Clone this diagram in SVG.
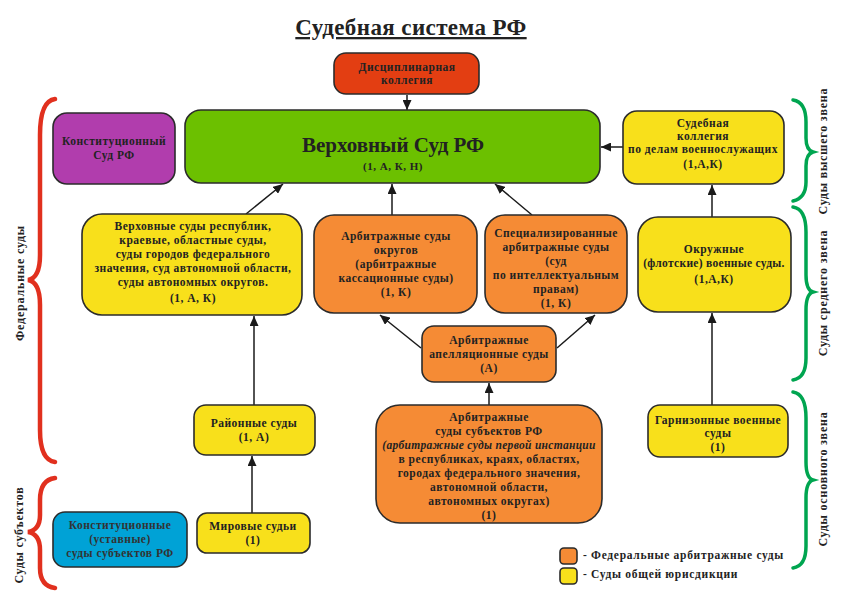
<svg xmlns="http://www.w3.org/2000/svg" width="842" height="596" viewBox="0 0 842 596">
<defs>
<marker id="arr" markerUnits="userSpaceOnUse" markerWidth="10" markerHeight="9" refX="10" refY="4.5" orient="auto">
<path d="M0,0 L10,4.5 L0,9 z" fill="#1a1a1a"/>
</marker>
</defs>
<style>
text{font-family:'Liberation Serif','Times New Roman',serif;font-weight:bold;fill:#222}
.n{stroke:#2b2b2b;stroke-width:1.6}
.t{font-size:11.5px;letter-spacing:0.5px;text-anchor:middle}
.c{stroke:#1a1a1a;stroke-width:1.5;fill:none;marker-end:url(#arr)}
.side{font-size:12px;letter-spacing:0.8px;text-anchor:middle}
.lg{font-size:11.5px;letter-spacing:0.7px}
.rb{fill:none;stroke:#E1301E;stroke-width:4.5;stroke-linecap:round}
.gb{fill:none;stroke:#00A550;stroke-width:3.5;stroke-linecap:round}
</style>
<rect width="842" height="596" fill="#ffffff"/>
<text x="411" y="35" style="font-size:23px;letter-spacing:0.4px;text-anchor:middle;text-decoration:underline">Судебная система РФ</text>

<g id="braces">
<path class="rb" d="M55,99 Q40,101 40,135 L40,255 Q40,278 28,280 Q40,282 40,305 L40,430 Q40,460 55,462"/>
<path class="rb" d="M55,478 Q40,480 40,500 L40,515 Q40,530 28,532 Q40,534 40,550 L40,568 Q40,586 55,588"/>
<path class="gb" d="M793,100 Q806,102 806,122 L806,138 Q806,150 813,152 Q806,154 806,166 L806,182 Q806,198 793,201"/>
<path class="gb" d="M793,207 Q806,209 806,232 L806,275 Q806,290 813,292 Q806,294 806,310 L806,358 Q806,378 793,380"/>
<path class="gb" d="M793,392 Q806,394 806,418 L806,462 Q806,478 813,480 Q806,482 806,498 L806,546 Q806,566 793,568"/>
<text class="side" transform="translate(24,283) rotate(-90)">Федеральные суды</text>
<text class="side" transform="translate(23,535) rotate(-90)">Суды субъектов</text>
<text class="side" transform="translate(827,151) rotate(-90)">Суды высшего звена</text>
<text class="side" transform="translate(827,293) rotate(-90)">Суды среднего звена</text>
<text class="side" transform="translate(827,479) rotate(-90)">Суды основного звена</text>
</g>

<g id="connectors">
<line class="c" x1="407" y1="95" x2="407" y2="110"/>
<line class="c" x1="623" y1="147" x2="601" y2="147"/>
<line class="c" x1="712" y1="217" x2="712" y2="185"/>
<line class="c" x1="246" y1="214" x2="283" y2="184"/>
<line class="c" x1="392" y1="215" x2="392" y2="184"/>
<line class="c" x1="532" y1="215" x2="495" y2="184"/>
<line class="c" x1="421" y1="348" x2="380" y2="315"/>
<line class="c" x1="557" y1="348" x2="595" y2="315"/>
<line class="c" x1="489" y1="405" x2="489" y2="383"/>
<line class="c" x1="254" y1="405" x2="254" y2="316"/>
<line class="c" x1="252" y1="513" x2="252" y2="456"/>
<line class="c" x1="712" y1="405" x2="712" y2="313"/>
</g>

<g id="disc">
<rect class="n" x="334" y="53" width="145" height="41" rx="12" fill="#E33E12"/>
<text class="t" x="407" y="71">Дисциплинарная</text>
<text class="t" x="407" y="84">коллегия</text>
</g>

<g id="supreme">
<rect class="n" x="185" y="110" width="415" height="73" rx="16" fill="#6CC000"/>
<text class="t" x="393" y="152" style="font-size:21px;letter-spacing:0">Верховный Суд РФ</text>
<text class="t" x="393" y="170" style="font-size:11px;letter-spacing:0.5px">(1, А, К, Н)</text>
</g>

<g id="const">
<rect class="n" x="53" y="113" width="122" height="71" rx="14" fill="#B13DAD"/>
<text class="t" x="114" y="145">Конституционный</text>
<text class="t" x="114" y="159">Суд РФ</text>
</g>

<g id="military-board">
<rect class="n" x="623" y="111" width="161" height="73" rx="14" fill="#F8E01B"/>
<text class="t" x="703" y="127">Судебная</text>
<text class="t" x="703" y="140">коллегия</text>
<text class="t" x="703" y="153">по делам военнослужащих</text>
<text class="t" x="703" y="168">(1,А,К)</text>
</g>

<g id="regional">
<rect class="n" x="82" y="214" width="220" height="101" rx="20" fill="#F8E01B"/>
<text class="t" x="193" y="230">Верховные суды республик,</text>
<text class="t" x="193" y="244">краевые, областные суды,</text>
<text class="t" x="193" y="258">суды городов федерального</text>
<text class="t" x="193" y="272">значения, суд автономной области,</text>
<text class="t" x="193" y="286">суды автономных округов.</text>
<text class="t" x="193" y="302">(1, А, К)</text>
</g>

<g id="arb-okrug">
<rect class="n" x="314" y="215" width="163" height="98" rx="20" fill="#F58B35"/>
<text class="t" x="396" y="240">Арбитражные суды</text>
<text class="t" x="396" y="254">округов</text>
<text class="t" x="396" y="268">(арбитражные</text>
<text class="t" x="396" y="282">кассационные  суды)</text>
<text class="t" x="396" y="296">(1, К)</text>
</g>

<g id="arb-spec">
<rect class="n" x="485" y="215" width="142" height="98" rx="20" fill="#F58B35"/>
<text class="t" x="556" y="237">Специализированные</text>
<text class="t" x="556" y="251">арбитражные суды</text>
<text class="t" x="556" y="265">(суд</text>
<text class="t" x="556" y="279">по интеллектуальным</text>
<text class="t" x="556" y="293">правам)</text>
<text class="t" x="556" y="307">(1, К)</text>
</g>

<g id="okrug-mil">
<rect class="n" x="638" y="217" width="153" height="95" rx="20" fill="#F8E01B"/>
<text class="t" x="714" y="253">Окружные</text>
<text class="t" x="714" y="267" style="letter-spacing:0.3px">(флотские) военные суды.</text>
<text class="t" x="714" y="283">(1,А,К)</text>
</g>

<g id="arb-appeal">
<rect class="n" x="422" y="326" width="134" height="56" rx="12" fill="#F58B35"/>
<text class="t" x="489" y="344">Арбитражные</text>
<text class="t" x="489" y="358">апелляционные суды</text>
<text class="t" x="489" y="372">(А)</text>
</g>

<g id="arb-subj">
<rect class="n" x="376" y="405" width="226" height="118" rx="24" fill="#F58B35"/>
<text class="t" x="489" y="421">Арбитражные</text>
<text class="t" x="489" y="435">суды субъектов РФ</text>
<text class="t" x="489" y="449" style="font-style:italic;letter-spacing:0.3px">(арбитражные суды первой инстанции</text>
<text class="t" x="489" y="463">в республиках, краях, областях,</text>
<text class="t" x="489" y="477">городах федерального значения,</text>
<text class="t" x="489" y="491">автономной области,</text>
<text class="t" x="489" y="505">автономных округах)</text>
<text class="t" x="489" y="519">(1)</text>
</g>

<g id="district">
<rect class="n" x="194" y="405" width="121" height="50" rx="12" fill="#F8E01B"/>
<text class="t" x="254" y="427">Районные суды</text>
<text class="t" x="254" y="441">(1, А)</text>
</g>

<g id="magistrates">
<rect class="n" x="197" y="513" width="113" height="40" rx="10" fill="#F8E01B"/>
<text class="t" x="253" y="530">Мировые судьи</text>
<text class="t" x="253" y="544">(1)</text>
</g>

<g id="const-subj">
<rect class="n" x="53" y="512" width="134" height="55" rx="12" fill="#00A2D6"/>
<text class="t" x="120" y="529" style="fill:#333">Конституционные</text>
<text class="t" x="120" y="543" style="fill:#333">(уставные)</text>
<text class="t" x="120" y="557" style="fill:#333">суды субъектов РФ</text>
</g>

<g id="garrison">
<rect class="n" x="648" y="405" width="140" height="52" rx="12" fill="#F8E01B"/>
<text class="t" x="718" y="424">Гарнизонные военные</text>
<text class="t" x="718" y="437">суды</text>
<text class="t" x="718" y="451">(1)</text>
</g>

<g id="legend">
<rect class="n" x="560" y="548" width="17" height="16" rx="4" fill="#F58B35"/>
<rect class="n" x="560" y="568" width="17" height="16" rx="4" fill="#F8E01B"/>
<text class="lg" x="583" y="559">- Федеральные арбитражные суды</text>
<text class="lg" x="583" y="578">- Суды общей юрисдикции</text>
</g>
</svg>
